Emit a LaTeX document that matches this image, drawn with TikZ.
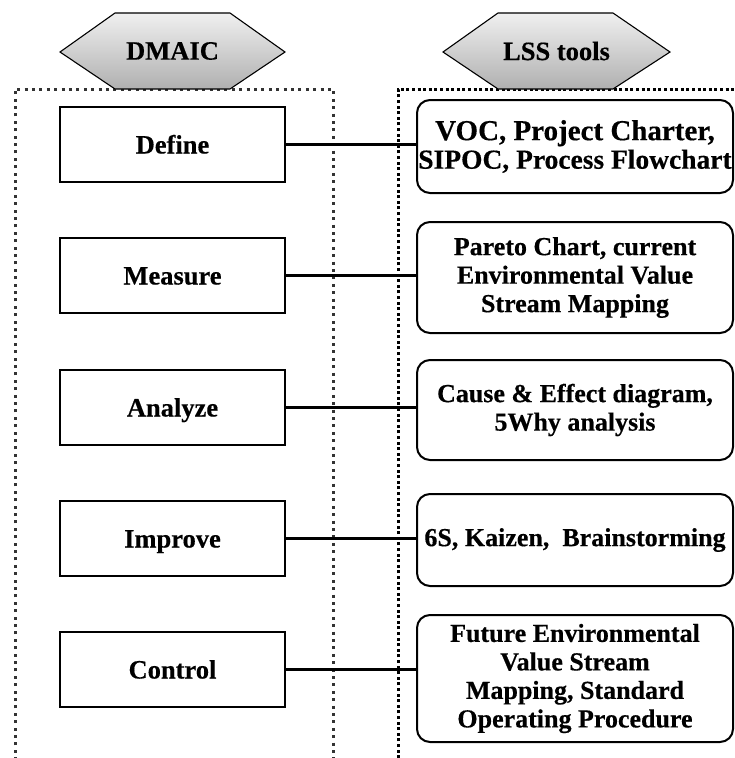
\documentclass[tikz,border=0pt]{standalone}
\usepackage{fontspec}
\setmainfont{Liberation Serif}[BoldFeatures={FakeBold=0.4}]
\begin{document}
\begin{tikzpicture}[x=1pt,y=-1pt,
  lframe/.style={draw=black!80, line width=3pt, dash pattern=on 3pt off 4.4pt},
  rframe/.style={draw=black, line width=3pt, dash pattern=on 3pt off 2.6pt},
  hexa/.style={draw=black, line width=1.1pt, top color=gray!12, bottom color=gray!62},
  hexlabel/.style={font=\fontsize{26.5}{28.5}\selectfont\bfseries, inner sep=0pt},
  phase/.style={draw=black, line width=1.8pt, fill=white, minimum width=225pt,
    minimum height=75pt, inner sep=0pt, text height=18pt, text depth=0pt,
    font=\fontsize{26.5}{28.5}\selectfont\bfseries},
  tool/.style={draw=black, line width=2pt, fill=white, rounded corners=13pt,
    minimum width=316pt, inner xsep=1pt, inner ysep=0pt, align=center,
    font=\fontsize{26}{28.5}\selectfont\bfseries},
  conn/.style={draw=black, line width=3.5pt}
]
\useasboundingbox (0,0) rectangle (735,758);

% dotted frames around the two columns (open at the bottom)
\draw[lframe] (15,775) -- (15,89) -- (333,89) -- (333,775);
\draw[rframe] (398,775) -- (398,89) -- (750,89);

% column headers
\shadedraw[hexa] (60,52) -- (115,13) -- (230,13) -- (285,52) -- (230,89) -- (115,89) -- cycle;
\node[hexlabel] (hdmaic) at (172.5,51) {DMAIC};
\shadedraw[hexa] (443,52) -- (498,13) -- (613,13) -- (670,52) -- (613,89) -- (498,89) -- cycle;
\node[hexlabel] (hlss) at (556.5,51) {LSS tools};

% DMAIC phases
\node[phase] (d1) at (172.5,144.5) {Define};
\node[phase] (d2) at (172.5,275.5) {Measure};
\node[phase] (d3) at (172.5,407.5) {Analyze};
\node[phase] (d4) at (172.5,538.5) {Improve};
\node[phase] (d5) at (172.5,669.5) {Control};

% tools used in each phase
\node[tool, minimum height=93pt] (t1) at (575,146.5)
  {{\fontsize{29}{28.5}\selectfont VOC, Project Charter,}\\
   {\fontsize{27.5}{28.5}\selectfont SIPOC, Process Flowchart}};
\node[tool, minimum height=111pt] (t2) at (575,277.5)
  {Pareto Chart, current\\Environmental Value\\Stream Mapping};
\node[tool, minimum height=100pt] (t3) at (575,410)
  {Cause \& Effect diagram,\\5Why analysis};
\node[tool, minimum height=92pt] (t4) at (575,540)
  {6S, Kaizen,\ \ Brainstorming};
\node[tool, minimum height=127pt] (t5) at (575,678.5)
  {Future Environmental\\Value Stream\\Mapping, Standard\\Operating Procedure};

% links between phases and tools
\foreach \i in {1,...,5}
  \draw[conn] (d\i.east) -- (d\i.east -| t\i.west);
\end{tikzpicture}
\end{document}
